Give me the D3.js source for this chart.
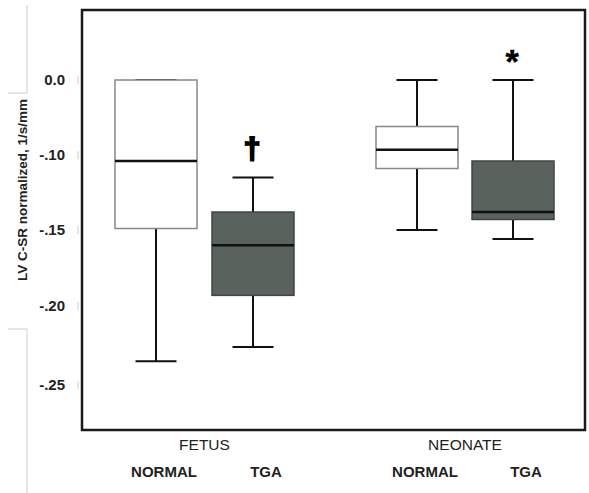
<!DOCTYPE html>
<html>
<head>
<meta charset="utf-8">
<script src="https://cdn.jsdelivr.net/npm/d3@7"></script>
<style>
  body { margin: 0; background: #fff; }
  text { font-family: Arial, "Liberation Sans", sans-serif; }
</style>
</head>
<body>
<script>
const width = 589, height = 493;

// groups and boxes
const groups = ["FETUS", "NEONATE"];
const conditions = ["NORMAL", "TGA"];
const boxNames = ["FETUS NORMAL", "FETUS TGA", "NEONATE NORMAL", "NEONATE TGA"];
const whiskerMax = [0.0, -0.115, 0.0, 0.0];
const q3 = [0.0, -0.138, -0.062, -0.104];
const medians = [-0.104, -0.160, -0.093, -0.138];
const q1 = [-0.149, -0.193, -0.109, -0.143];
const whiskerMin = [-0.235, -0.226, -0.150, -0.156];
const marks = ["", "\u2020", "", "*"];

const tickValues = [0, -0.10, -0.15, -0.20, -0.25];
const tickLabels = ["0.0", "-.10", "-.15", "-.20", "-.25"];

const svg = d3.select("body").append("svg")
  .attr("width", width)
  .attr("height", height);

// the printed axis is not evenly spaced, so map each labelled tick to its place
const y = d3.scaleLinear()
  .domain(tickValues)
  .range([80, 155, 230, 306, 385]);

// boxes are not evenly spread
const xPos = [156, 253, 417, 513];
const boxW = 82, capW = 41;

// page artefacts at the far left
svg.append("path")
  .attr("d", "M27,5V93H8M8,329H27V493")
  .attr("fill", "none")
  .attr("stroke", "#ccc")
  .attr("stroke-width", 1);

// frame
svg.append("rect")
  .attr("x", 82).attr("y", 10)
  .attr("width", 503).attr("height", 420)
  .attr("fill", "none")
  .attr("stroke", "#1a1a1a")
  .attr("stroke-width", 2.5);

// y tick labels
const yAxis = svg.append("g");
yAxis.selectAll("text")
  .data(tickValues)
  .enter()
    .append("text")
    .attr("x", 65)
    .attr("y", d => y(d))
    .attr("dy", "0.35em")
    .attr("text-anchor", "end")
    .attr("font-size", 15)
    .attr("font-weight", "bold")
    .attr("fill", "#222")
    .text((d, i) => tickLabels[i]);

yAxis.selectAll("line")
  .data(tickValues)
  .enter()
    .append("line")
    .attr("x1", 78).attr("x2", 78)
    .attr("y1", d => y(d) - 4)
    .attr("y2", d => y(d) + 4)
    .attr("stroke", "#ccc");

svg.append("text")
  .attr("transform", "translate(27,190) rotate(-90)")
  .attr("text-anchor", "middle")
  .attr("font-size", 13.5)
  .attr("font-weight", "bold")
  .attr("fill", "#222")
  .text("LV C-SR normalized, 1/s/mm");

// boxes
const box = svg.selectAll(".box")
  .data(boxNames)
  .enter()
    .append("g")
    .attr("class", "box");

box.append("line")
  .attr("x1", (d, i) => xPos[i]).attr("x2", (d, i) => xPos[i])
  .attr("y1", (d, i) => y(whiskerMax[i]))
  .attr("y2", (d, i) => y(whiskerMin[i]))
  .attr("stroke", "#111")
  .attr("stroke-width", 2);

box.selectAll(".cap")
  .data((d, i) => [[i, whiskerMax[i]], [i, whiskerMin[i]]])
  .enter()
    .append("line")
    .attr("class", "cap")
    .attr("x1", d => xPos[d[0]] - capW / 2)
    .attr("x2", d => xPos[d[0]] + capW / 2)
    .attr("y1", d => y(d[1]))
    .attr("y2", d => y(d[1]))
    .attr("stroke", "#111")
    .attr("stroke-width", 2);

box.append("rect")
  .attr("x", (d, i) => xPos[i] - boxW / 2)
  .attr("y", (d, i) => y(q3[i]))
  .attr("width", boxW)
  .attr("height", (d, i) => y(q1[i]) - y(q3[i]))
  .attr("fill", (d, i) => i % 2 ? "#59625c" : "#fff")
  .attr("stroke", (d, i) => i % 2 ? "#444" : "#888")
  .attr("stroke-width", 1.5);

box.append("line")
  .attr("x1", (d, i) => xPos[i] - boxW / 2)
  .attr("x2", (d, i) => xPos[i] + boxW / 2)
  .attr("y1", (d, i) => y(medians[i]))
  .attr("y2", (d, i) => y(medians[i]))
  .attr("stroke", "#111")
  .attr("stroke-width", 2.5);

// significance marks above the top whisker
box.append("text")
  .attr("x", (d, i) => xPos[i] - 1)
  .attr("y", (d, i) => y(whiskerMax[i]) - (i === 1 ? 19 : 7))
  .attr("text-anchor", "middle")
  .attr("font-size", (d, i) => i === 1 ? 30 : 34)
  .attr("font-weight", "bold")
  .attr("fill", "#000")
  .attr("stroke", "#000")
  .attr("stroke-width", (d, i) => i === 1 ? 2 : 0.5)
  .text((d, i) => marks[i]);

// x labels
svg.selectAll(".group")
  .data(groups)
  .enter()
    .append("text")
    .attr("class", "group")
    .attr("x", (d, i) => (xPos[2 * i] + xPos[2 * i + 1]) / 2)
    .attr("y", 445)
    .attr("dy", "0.35em")
    .attr("text-anchor", "middle")
    .attr("font-size", 15.5)
    .attr("fill", "#222")
    .text(d => d);

svg.selectAll(".cond")
  .data(boxNames)
  .enter()
    .append("text")
    .attr("class", "cond")
    .attr("x", (d, i) => xPos[i] + (i % 2 ? 13 : 8))
    .attr("y", 472)
    .attr("dy", "0.35em")
    .attr("text-anchor", "middle")
    .attr("font-size", 15)
    .attr("font-weight", "bold")
    .attr("fill", "#222")
    .text((d, i) => conditions[i % 2]);
</script>
</body>
</html>
